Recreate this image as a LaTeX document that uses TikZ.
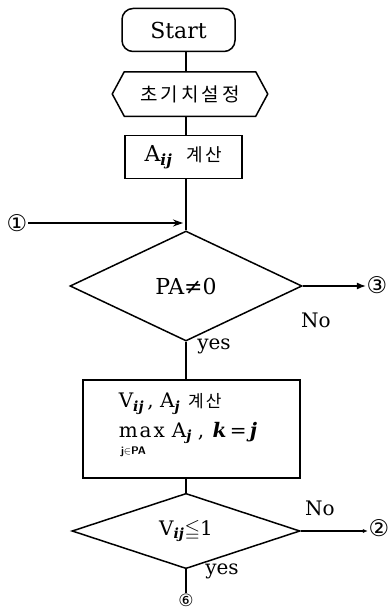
\documentclass[tikz,border=0pt]{standalone}
\usepackage{amsmath,amssymb}
\usepackage{fontspec}
\setmainfont{DejaVu Serif}
\usetikzlibrary{shapes.geometric,arrows.meta}
\newfontfamily\kr{Noto Sans CJK KR}
\newfontfamily\circfont{DejaVu Sans}
\newcommand{\bsub}[1]{$_{\text{\bfseries\itshape #1}}$}
\begin{document}
\begin{tikzpicture}[x=1pt,y=-1pt,line width=1.5pt,
  lat/.style={font=\fontsize{22}{26}\selectfont},
  lbl/.style={font=\fontsize{20}{24}\selectfont, inner sep=0pt},
  circ/.style={font=\circfont\fontsize{23}{24}\selectfont, inner sep=0pt},
  dia/.style={draw, diamond, inner sep=0pt},
  rbox/.style={draw, rectangle, inner sep=0pt}]
\useasboundingbox (0,0) rectangle (391,610);
\coordinate (ax) at (186,0);

% nodes
\node[draw, rounded corners=11pt, minimum width=113pt, minimum height=43pt, inner sep=0pt, lat] (start) at (178.5,30) {Start};
\node[minimum width=130pt, minimum height=43pt, inner sep=0pt] (hex) at (190,94)
  {\kr\fontsize{19}{20}\selectfont 초\hspace{3pt}기\hspace{3pt}치\hspace{3pt}설\hspace{3pt}정};
\draw ([xshift=-12pt]hex.west) -- (hex.north west) -- (hex.north east) -- ([xshift=12pt]hex.east) -- (hex.south east) -- (hex.south west) -- cycle;

\node[rbox, minimum width=117pt, minimum height=43pt, lat] (abox) at (183.5,157)
  {A\bsub{ij}\hspace{14pt}{\kr\fontsize{18}{20}\selectfont 계\hspace{3pt}산}};

\node[dia, minimum width=232pt, minimum height=110pt, lat] (d1) at (186,286) {PA≠0};

\node[rbox, minimum width=217pt, minimum height=98pt] (vbox) at (191.5,429) {};
\node[lbl, anchor=west] (v1) at (118,404)
  {V\bsub{ij}\,, A\bsub{j}\hspace{8pt}{\kr\fontsize{17}{18}\selectfont 계\hspace{2pt}산}};
\node[lbl, anchor=west] (v2) at (118,433)
  {m\hspace{2pt}a\hspace{2pt}x\hspace{7pt}A\bsub{j}\hspace{6pt}, \hspace{2pt}{\bfseries\itshape k}\,=\,{\bfseries\itshape j}};
\node[anchor=west, inner sep=0pt, font=\sffamily\bfseries\fontsize{11}{12}\selectfont] (v3) at (120,452) {j$\in$PA};

\node[dia, minimum width=228pt, minimum height=72pt, font=\fontsize{20}{24}\selectfont] (d2) at (186,531)
  {V\bsub{ij}$\leqq$1};

% circled markers
\node[circ] (c1) at (17,223) {①};
\node[circ] (c3) at (377,285) {③};
\node[circ] (c2) at (379,528) {②};
\node[circ, font=\circfont\fontsize{17}{18}\selectfont] (c6) at (186,600) {⑥};

% labels
\node[lbl] (no1) at (316,320) {No};
\node[lbl] (yes1) at (214,346) {yes};
\node[lbl] (no2) at (320,508) {No};
\node[lbl] (yes2) at (222,571) {yes};

% connectors
\coordinate (j1) at (183,223);
\draw (start.south -| ax) -- (hex.north -| ax);
\draw (hex.south -| ax) -- (abox.north -| ax);
\draw (abox.south -| ax) -- (d1.north);
\draw[-{Stealth[length=10pt,width=7pt]}] (c1.east) -- (j1);
\draw[-{Latex[length=9pt,width=7pt]}] (d1.east) -- (d1.east -| c3.west);
\draw (d1.south) -- (vbox.north -| d1.south);
\draw (vbox.south -| d2.north) -- (d2.north);
\draw[-{Latex[length=5pt,width=4pt]}] (d2.east) -- (d2.east -| c2.west);
\draw (d2.south) -- (d2.south |- c6.north);
\end{tikzpicture}
\end{document}
